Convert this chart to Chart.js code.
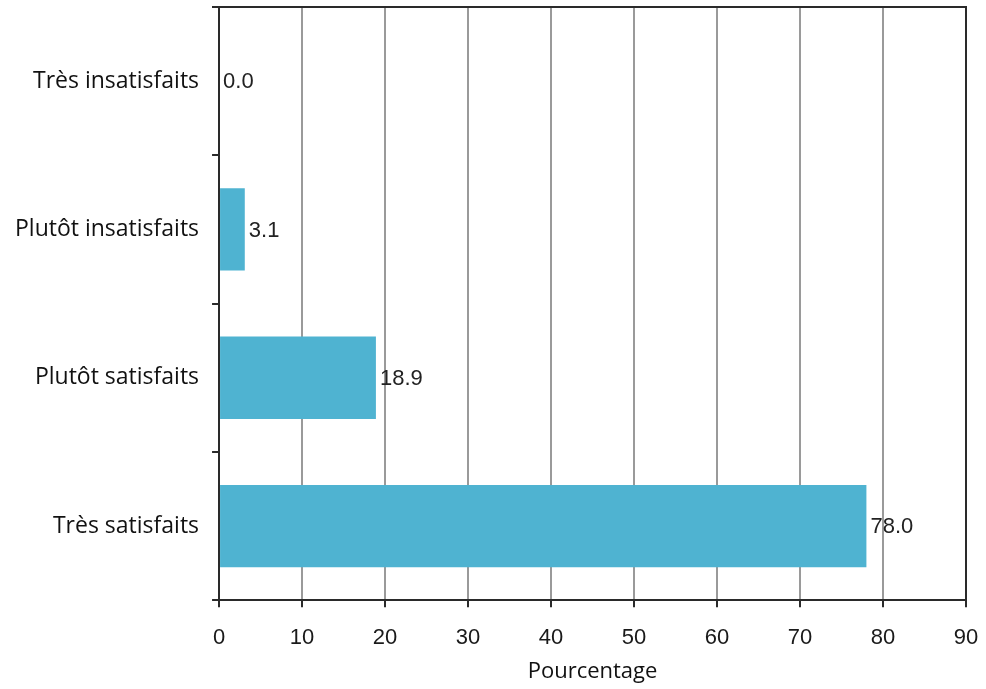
<!DOCTYPE html>
<html>
<head>
<meta charset="utf-8">
<script src="https://cdn.jsdelivr.net/npm/chart.js@4.4.1/dist/chart.umd.min.js"></script>
<style>
  html, body { margin: 0; padding: 0; background: #ffffff; }
  #wrap { width: 986px; height: 689px; }
</style>
</head>
<body>
<div id="wrap"><canvas id="c" width="986" height="689"></canvas></div>
<script>
// Niveau de satisfaction (pourcentage des répondants)
const categories = ["Très insatisfaits", "Plutôt insatisfaits", "Plutôt satisfaits", "Très satisfaits"];
const percentages = [0.0, 3.1, 18.9, 78.0];
const xTicks = [0, 10, 20, 30, 40, 50, 60, 70, 80, 90];
const axisTitle = "Pourcentage";

const BAR_COLOR = "#4fb3d1";
const AXIS_COLOR = "#2a2a2a";
const GRID_COLOR = "#9a9a9a";

// Value labels at the end of each bar
const barValueLabels = {
  id: "barValueLabels",
  afterDatasetsDraw(chart) {
    const { ctx } = chart;
    const meta = chart.getDatasetMeta(0);
    ctx.save();
    ctx.font = "22px 'Liberation Sans', Arial, sans-serif";
    ctx.fillStyle = "#222222";
    ctx.textAlign = "left";
    ctx.textBaseline = "middle";
    meta.data.forEach((bar, i) => {
      ctx.fillText(percentages[i].toFixed(1), bar.x + 4, bar.y + 1);
    });
    ctx.restore();
  }
};

// Top and right frame lines around the plot area
const frameLines = {
  id: "frameLines",
  afterDraw(chart) {
    const { ctx, chartArea: a } = chart;
    ctx.save();
    ctx.strokeStyle = AXIS_COLOR;
    ctx.lineWidth = 2;
    ctx.beginPath();
    ctx.moveTo(a.left - 7, a.top);
    ctx.lineTo(a.right, a.top);
    ctx.lineTo(a.right, a.bottom);
    ctx.stroke();
    ctx.restore();
  }
};

new Chart(document.getElementById("c"), {
  type: "bar",
  data: {
    labels: categories,
    datasets: [{
      data: percentages,
      backgroundColor: BAR_COLOR,
      borderWidth: 0,
      categoryPercentage: 0.555,
      barPercentage: 1.0
    }]
  },
  options: {
    indexAxis: "y",
    responsive: false,
    animation: false,
    layout: { padding: { left: 2, right: 20, top: 7, bottom: 4 } },
    plugins: {
      legend: { display: false },
      tooltip: { enabled: false }
    },
    scales: {
      x: {
        type: "linear",
        min: xTicks[0],
        max: xTicks[xTicks.length - 1],
        afterBuildTicks(scale) {
          scale.ticks = xTicks.map(v => ({ value: v }));
        },
        afterFit(scale) {
          scale.paddingLeft = 0;
          scale.paddingRight = 0;
        },
        grid: {
          color: (c) => (c.index === 0 || (c.tick && c.tick.value === 90)) ? "rgba(0,0,0,0)" : GRID_COLOR,
          lineWidth: 2,
          tickColor: AXIS_COLOR,
          tickLength: 7,
          drawTicks: true
        },
        border: { display: true, color: AXIS_COLOR, width: 2 },
        ticks: {
          color: "#1a1a1a",
          font: { family: "'Liberation Sans', Arial, sans-serif", size: 22 },
          padding: 18,
          maxRotation: 0,
          minRotation: 0,
          autoSkip: false
        },
        title: {
          display: true,
          text: axisTitle,
          color: "#111111",
          font: { family: "'Open Sans', 'Noto Sans', sans-serif", size: 22 },
          padding: { top: -11, bottom: 0 }
        }
      },
      y: {
        type: "category",
        afterFit(scale) {
          scale.paddingTop = 0;
          scale.paddingBottom = 0;
        },
        grid: {
          offset: true,
          drawOnChartArea: false,
          tickColor: AXIS_COLOR,
          tickLength: 7,
          lineWidth: 2
        },
        border: { display: true, color: AXIS_COLOR, width: 2 },
        ticks: {
          color: "#111111",
          font: { family: "'Open Sans', 'Noto Sans', sans-serif", size: 23 },
          padding: 13
        }
      }
    }
  },
  plugins: [barValueLabels, frameLines]
});
</script>
</body>
</html>
